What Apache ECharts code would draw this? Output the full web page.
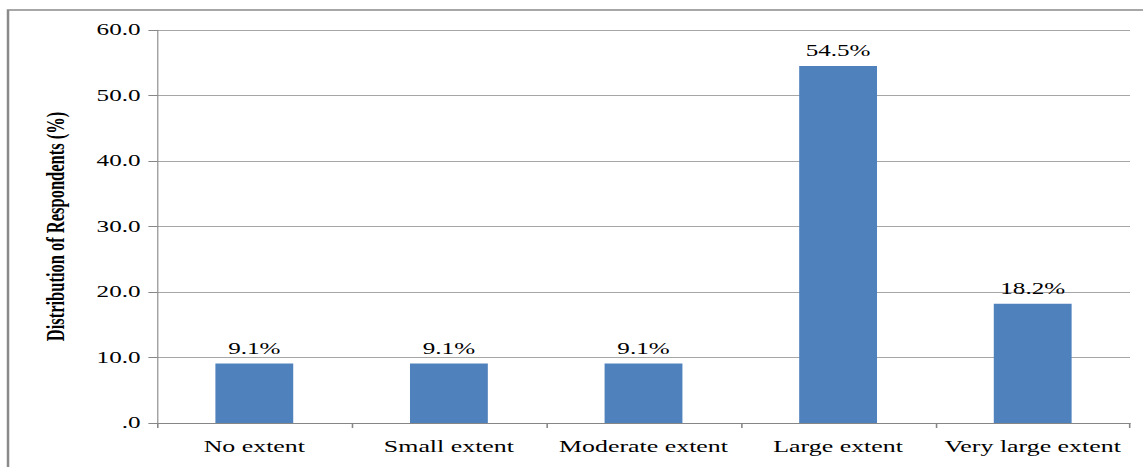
<!DOCTYPE html>
<html>
<head>
<meta charset="utf-8">
<script src="https://cdn.jsdelivr.net/npm/echarts@6/dist/echarts.min.js"></script>
<style>
  html, body { margin: 0; padding: 0; background: #fff; overflow: hidden; }
  #wrap { width: 1143px; height: 467px; position: relative; overflow: hidden; }
  #chart { width: 728px; height: 467px; transform: scaleX(1.5701); transform-origin: 0 0; position: absolute; left: 0; top: 0; }
</style>
</head>
<body>
<div id="wrap"><div id="chart"></div></div>
<script>
const categories = ['No extent', 'Small extent', 'Moderate extent', 'Large extent', 'Very large extent'];
const values = [9.1, 9.1, 9.1, 54.5, 18.2];
const yTicks = { min: 0, max: 60, interval: 10 };
const yAxisTitle = 'Distribution of Respondents (%)';

const serif = "'Liberation Serif', 'Times New Roman', serif";
const chart = echarts.init(document.getElementById('chart'), null, { renderer: 'svg' });
chart.setOption({
  animation: false,
  backgroundColor: '#ffffff',
  graphic: [{
    type: 'rect',
    shape: { x: 5.1, y: 10, width: 1000, height: 1000 },
    style: { fill: 'none', stroke: '#8a8a8a', lineWidth: 1.6 },
    silent: true
  }],
  grid: { left: 100, right: 8.3, top: 30, bottom: 44 },
  xAxis: {
    type: 'category',
    data: categories,
    axisLine: { lineStyle: { color: '#868686', width: 1 } },
    axisTick: { show: true, length: 5, lineStyle: { color: '#868686' } },
    axisLabel: { fontFamily: serif, fontSize: 16.5, color: '#000', margin: 15, interval: 0 }
  },
  yAxis: {
    type: 'value',
    min: yTicks.min, max: yTicks.max, interval: yTicks.interval,
    name: yAxisTitle,
    nameLocation: 'middle',
    nameRotate: 90,
    nameGap: 56,
    nameTextStyle: { fontFamily: serif, fontSize: 16.5, fontWeight: 'bold', color: '#000' },
    axisLine: { show: true, lineStyle: { color: '#868686', width: 0.7 } },
    axisTick: { show: true, length: 5.5, lineStyle: { color: '#868686', width: 1 } },
    splitLine: { lineStyle: { color: '#a6a6a6', width: 1 } },
    axisLabel: {
      fontFamily: serif, fontSize: 16, color: '#000', margin: 10.5,
      formatter: v => v === 0 ? '.0' : v.toFixed(1)
    }
  },
  series: [{
    type: 'bar',
    data: values,
    barWidth: '40%',
    itemStyle: { color: '#4f81bd' },
    label: {
      show: true, position: 'top', distance: 7,
      fontFamily: serif, fontSize: 16, color: '#000',
      formatter: p => p.value.toFixed(1) + '%'
    }
  }]
});
</script>
</body>
</html>
